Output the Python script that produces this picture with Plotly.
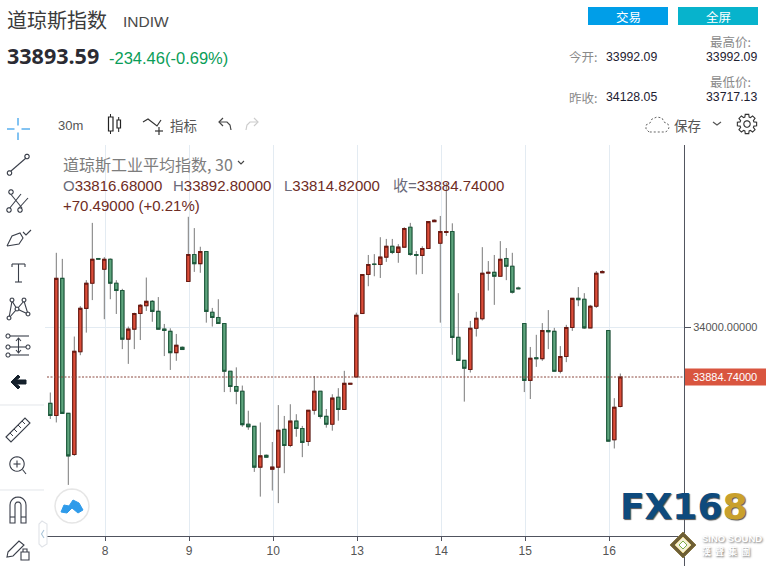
import math
import plotly.graph_objects as go

# ---------- data ----------
day_labels = ["8", "9", "10", "13", "14", "15", "16"]
day_index = [9, 23, 37, 51, 65, 79, 93]
price_ticks = [34000]
last_close = 33884.74

opens = [33824,33796,34112,33801,33706,33943,34043,34101,34158,34133,34156,34101,34084,33972,33995,34031,34049,34059,34036,33995,33990,33941,33953,
         34105,34167,34146,34174,34034,34022,34008,33898,33863,33852,33776,33771,33677,33704,33672,33677,33764,33727,33783,33766,33736,33808,33852,33794,
         33776,33838,33810,33868,33885,34031,34121,34145,34144,34161,34186,34172,34184,34230,34167,34165,34181,34243,34193,34218,34220,33976,33923,
         33902,33997,34019,34124,34126,34117,34158,34140,34090,34008,33877,33929,33927,33992,33990,33898,33932,33999,34066,34064,33998,34048,34125,33992,33740,33816.68]
highs = [33849,34171,34157,33801,33978,34048,34108,34240,34158,34161,34158,34108,34088,34001,34033,34053,34114,34062,34069,34007,33997,33984,33955,
         34254,34228,34185,34174,34044,34064,34008,33898,33907,33865,33807,33771,33780,33706,33735,33820,33795,33822,33799,33772,33808,33887,33852,33811,
         33845,33859,33899,33870,34033,34121,34166,34168,34207,34203,34203,34191,34230,34240,34175,34186,34243,34248,34256,34332,34239,34078,33923,
         34014,34035,34184,34152,34166,34198,34182,34171,34093,34008,33954,33982,34009,34039,33998,33956,34005,34066,34092,34078,34051,34129,34131,33992,33836,33892.80]
lows = [33788,33780,33801,33636,33703,33935,33987,34062,34156,34018,34064,34030,33949,33915,33949,33970,34037,34012,33995,33933,33901,33922,33947,
        34105,34127,34125,34010,34001,34008,33850,33850,33822,33770,33763,33666,33609,33698,33623,33594,33663,33723,33747,33700,33726,33798,33789,33768,
        33761,33784,33810,33868,33885,34031,34094,34117,34113,34150,34168,34148,34184,34164,34121,34122,34181,34243,34010,34210,33936,33923,33828,
        33895,33978,34015,34084,34051,34117,34108,34077,34088,33850,33834,33908,33922,33949,33898,33893,33919,33991,34048,33996,33998,34044,34125,33737,33720,33814.82]
closes = [33796,34112,33801,33703,33944,34043,34101,34156,34156,34156,34101,34084,33972,33995,34031,34050,34059,34036,33995,33992,33941,33958,33948,
          34167,34146,34174,34036,34022,34008,33898,33863,33852,33775,33770,33677,33703,33700,33677,33762,33727,33783,33766,33734,33808,33852,33794,33776,
          33836,33810,33870,33870,34027,34121,34144,34144,34161,34186,34172,34184,34227,34167,34165,34181,34243,34246,34220,34220,33976,33923,33905,
          33997,34020,34124,34126,34117,34156,34140,34080,34088,33877,33928,33927,33992,33989,33898,33932,33999,34066,34063,33998,34048,34124,34128,33737,33815,33884.74]
candle_index = list(range(len(opens)))

# ---------- page geometry (pixels) ----------
W, H = 770, 566
L, R, T_, B = 45, 684, 145, 536

def px(x):
    return (x - L) / (R - L)

def py(y):
    return (B - y) / (B - T_)

annotations, shapes = [], []
SANS = "Liberation Sans, Noto Sans CJK SC"
CJK = "Noto Sans CJK SC, Liberation Sans"

def text(x, y, s, size, color, anchor="left", family=SANS, **font_kw):
    annotations.append(dict(x=px(x), y=py(y), xref="paper", yref="paper", text=s, showarrow=False,
                            xanchor=anchor, yanchor="middle", borderpad=0, borderwidth=0,
                            font=dict(size=size, color=color, family=family, **font_kw)))

def add_path(d, color="#3a3f4a", width=1.2, fill=None, dash=None):
    line = dict(color=color, width=width)
    if dash:
        line["dash"] = dash
    shapes.append(dict(type="path", path=d, xref="paper", yref="paper", line=line,
                       fillcolor=fill if fill else "rgba(0,0,0,0)", layer="above"))

def poly(pts, close=False, **kw):
    d = "M" + " L".join(f"{px(a):.5f},{py(b):.5f}" for a, b in pts) + (" Z" if close else "")
    add_path(d, **kw)

def circ(cx, cy, r, **kw):
    pts = [(cx + r * math.cos(t * math.pi / 12), cy + r * math.sin(t * math.pi / 12)) for t in range(24)]
    poly(pts, close=True, **kw)

def rect(x0, y0, x1, y1, fill, line=None):
    shapes.append(dict(type="rect", xref="paper", yref="paper", x0=px(x0), x1=px(x1), y0=py(y0), y1=py(y1),
                       fillcolor=fill, line=dict(color=line or fill, width=1 if line else 0), layer="above"))

# ---------- header ----------
text(7, 20, "道琼斯指数", 20, "#3b3b3b", family=CJK)
text(123, 21, "INDIW", 15.5, "#4a4a4a")
text(7, 55.5, "<b>33893.59</b>", 21.5, "#2b2b33", family="Open Sans, Liberation Sans")
text(109, 57.5, "-234.46(-0.69%)", 16.5, "#0a9d58")

rect(588, 7, 668, 25, "#009ee8")
rect(678, 7, 758, 25, "#07b3cc")
text(628, 16, "交易", 12.5, "white", "center", CJK)
text(718, 16, "全屏", 12.5, "white", "center", CJK)

text(730, 41, "最高价:", 12.5, "#8a8a8a", "center", CJK)
text(730, 81, "最低价:", 12.5, "#8a8a8a", "center", CJK)
text(569, 57, "今开:", 12.5, "#8a8a8a", "left", CJK)
text(569, 97, "昨收:", 12.5, "#8a8a8a", "left", CJK)
text(606, 57, "33992.09", 12.3, "#1d2030")
text(606, 97, "34128.05", 12.3, "#1d2030")
text(706, 57, "33992.09", 12.3, "#1d2030")
text(706, 97, "33717.13", 12.3, "#1d2030")

# ---------- top toolbar ----------
text(58, 125, "30m", 13, "#555555")
poly([(110.5, 114), (110.5, 134)], width=1, color="#222")
poly([(108.5, 117), (113, 117), (113, 131), (108.5, 131)], close=True, width=1.2, color="#222", fill="white")
poly([(118.7, 117), (118.7, 132)], width=1, color="#222")
poly([(117, 120), (120.5, 120), (120.5, 128), (117, 128)], close=True, width=1.2, color="#222", fill="white")
poly([(143, 122), (148, 119), (157, 126), (161, 120)], width=1.2, color="#333")
poly([(159, 127), (159, 135)], width=1.2, color="#333")
poly([(155, 131), (163, 131)], width=1.2, color="#333")
text(170, 124.5, "指标", 13.5, "#555555", family=CJK)
# undo
poly([(231, 130), (230, 125), (227, 122), (219, 122)], color="#444444", width=1.2)
poly([(223, 118), (219, 122), (223, 126)], color="#444444", width=1.2)
# redo
poly([(246, 130), (247, 125), (250, 122), (258, 122)], color="#cccccc", width=1.2)
poly([(254, 118), (258, 122), (254, 126)], color="#cccccc", width=1.2)
# cloud (dashed)
poly([(649, 132), (646, 129), (646, 125), (650, 123), (652, 119), (657, 117), (662, 118), (664, 122),
      (668, 124), (669, 128), (666, 132)], close=True, color="#666666", width=1, dash="2px,2px")
text(674, 124.5, "保存", 13.5, "#555555", family=CJK)
poly([(713, 122), (717, 125), (721, 122)], color="#555555", width=1.2)
gear = []
for k in range(8):
    a = k * math.pi / 4
    for off, r in ((-0.30, 7.2), (-0.18, 9.8), (0.18, 9.8), (0.30, 7.2)):
        gear.append((747 + r * math.cos(a + off), 124 + r * math.sin(a + off)))
poly(gear, close=True, color="#333333", width=1.1)
circ(747, 124, 3.2, color="#333333", width=1.1)

# ---------- left toolbar ----------
BLUE = "#2f9bea"
for seg in ([(18, 118), (18, 125.5)], [(18, 132.5), (18, 140)], [(7, 129), (14.5, 129)], [(21.5, 129), (30, 129)]):
    poly(seg, color=BLUE, width=1.2)
poly([(11, 171), (26, 158)], width=1.1)
circ(9.5, 173, 2.2, width=1.1, fill="white")
circ(27, 156.5, 2.2, width=1.1, fill="white")
poly([(9, 192), (22, 208)], width=1.1)
poly([(9, 209), (21, 194)], width=1.1)
poly([(19, 208), (28, 198)], width=1.1)
for c in ((9, 210), (20, 210), (11, 192)):
    circ(c[0], c[1], 2.2, width=1.1, fill="white")
poly([(7, 246), (12, 236), (20, 233), (23, 238), (19, 244), (7, 246)], width=1.1)
poly([(23, 232), (26, 235), (31, 230)], width=1.1)
poly([(12, 264), (25, 264)], width=1.1); poly([(12, 264), (12, 267)], width=1.1); poly([(25, 264), (25, 267)], width=1.1)
poly([(18.5, 264), (18.5, 282)], width=1.1); poly([(15, 282), (22, 282)], width=1.1)
poly([(9, 318), (12, 301), (17, 309), (24, 301), (28, 314), (17, 309), (9, 318)], width=1.1)
for c in ((9, 318), (12, 300), (17, 309), (24, 300), (28, 314)):
    circ(c[0], c[1], 1.9, width=1.1, fill="white")
for y0, x0, x1, cxs in ((336, 8, 29, [8]), (347, 8, 29, [8, 28]), (355, 8, 29, [8])):
    poly([(x0, y0), (x1, y0)], width=1.1)
    for cx in cxs:
        circ(cx, y0, 2, width=1.1, fill="white")
poly([(18.5, 338), (18.5, 353)], width=1.1)
poly([(16, 341), (18.5, 338), (21, 341)], width=1.1)
poly([(16, 350), (18.5, 353), (21, 350)], width=1.1)
poly([(11, 382), (18, 375), (20, 377), (16.5, 380), (26, 380), (26, 384), (16.5, 384), (20, 387), (18, 389)],
     close=True, color="#15202b", fill="#15202b", width=1)
poly([(0, 405), (44, 405)], color="#e3e6ea", width=1)
poly([(6, 437), (25, 418), (30, 423), (11, 442)], close=True, width=1.1)
for a, b in ((10, 433), (14, 429), (18, 425), (22, 421)):
    poly([(a, b), (a + 3, b + 3)], width=1)
circ(17, 464, 7.2, width=1.1)
poly([(13.5, 464), (20.5, 464)], width=1.1)
poly([(17, 460.5), (17, 467.5)], width=1.1)
poly([(22.5, 469.5), (26, 474)], width=1.1)
poly([(0, 490), (44, 490)], color="#e3e6ea", width=1)
# magnet: outer and inner semicircles with two legs
outer = [(18 - 8 * math.cos(t * math.pi / 10), 505 - 8 * math.sin(t * math.pi / 10)) for t in range(11)]
inner = [(18 + 3 * math.cos(t * math.pi / 10), 505 - 3 * math.sin(t * math.pi / 10)) for t in range(11)]
poly([(10, 523)] + outer + [(26, 523), (21, 523)] + inner + [(15, 523)], close=True, width=1.1)
poly([(10, 517), (15, 517)], width=1.1); poly([(21, 517), (26, 517)], width=1.1)
poly([(8, 552), (19, 541), (24, 545), (13, 556), (7, 557)], close=True, width=1.1)
poly([(21, 552), (29, 552), (29, 560), (21, 560)], close=True, width=1.1, fill="white")
poly([(23, 552), (23, 549), (27, 549), (27, 552)], width=1.1)
poly([(42, 521), (47, 524), (47, 544), (42, 547), (39, 544), (39, 524)], close=True, color="#e0e3e8", width=1.1, fill="white")
poly([(44, 530), (41.5, 534), (44, 538)], color="#a9c4d8", width=1.1)
circ(72, 506, 17, color="#e6e6e6", width=1.5, fill="white")
poly([(61, 512), (64, 505), (69, 506), (73, 500), (79, 503), (83, 510), (78, 513), (72, 508), (67, 513)],
     close=True, color="#2f9bea", fill="#2f9bea", width=1)

# ---------- chart legend text ----------
BROWN = "#6e2c24"
GRAY = "#7d7d7d"
text(63, 163.5, "道琼斯工业平均指数, 30", 16, GRAY, family=CJK)
poly([(238, 161), (241, 164), (244, 161)], color="#444444", width=1.1)
text(63, 185, f'<span style="color:#6b6b7a">O</span>33816.68000', 15, BROWN)
text(173, 185, f'<span style="color:#6b6b7a">H</span>33892.80000', 15, BROWN)
text(284, 185, f'<span style="color:#6b6b7a">L</span>33814.82000', 15, BROWN)
text(393, 185, f'<span style="color:#6b6b7a">收=</span>33884.74000', 15, BROWN)
text(63, 205, "+70.49000 (+0.21%)", 15, BROWN)

# ---------- last price line / label ----------
shapes.append(dict(type="line", xref="paper", yref="y", x0=px(47), x1=1, y0=last_close, y1=last_close,
                   line=dict(color="#8c4a40", width=1, dash="2px,1.5px"), layer="above"))
shapes.append(dict(type="rect", xref="paper", yref="y", x0=1, x1=px(766), y0=last_close - 19.6, y1=last_close + 19.6,
                   fillcolor="#d9553f", line=dict(width=0), layer="above"))
text(693, 377, "33884.74000", 11, "white")

# ---------- axis line extended to page bottom ----------
poly([(684.5, 145), (684.5, 566)], color="#50535e", width=1)

# ---------- logos ----------
text(620, 506, '<b>FX16<span style="color:#c9a02c">8</span></b>', 36, "#0e4a7d", family="DejaVu Sans",
     shadow="1px 1px 1px #555555")
poly([(683, 532), (696, 545), (683, 558), (670, 545)], close=True, color="#8a7a4a", fill="#6e5f35", width=1)
poly([(683, 537), (691, 545), (683, 553), (675, 545)], close=True, color="#e8d58a", fill="#f4f0d8", width=1)
poly([(683, 541), (687, 545), (683, 549), (679, 545)], close=True, color="#7fae4a", fill="#ffffff", width=1)
SHADOW = "1px 1px 2px #777777"
text(702, 538, "<b>SINO SOUND</b>", 9.5, "white", shadow=SHADOW)
text(702, 551, "<b>漢  聲  集  團</b>", 9, "white", family=CJK, shadow=SHADOW)

# ---------- traces ----------
RED_F, RED_L = "#dc4d39", "#6b1a12"
GRN_F, GRN_L = "#5fa57e", "#1d5a3c"
body_hi = [max(a, b) for a, b in zip(opens, closes)]
body_lo = [min(a, b) for a, b in zip(opens, closes)]

wicks = go.Candlestick(
    x=candle_index, open=opens, high=highs, low=lows, close=closes, hoverinfo="skip", showlegend=False,
    increasing=dict(line=dict(color="#7a7a7a", width=1), fillcolor="rgba(0,0,0,0)"),
    decreasing=dict(line=dict(color="#7a7a7a", width=1), fillcolor="rgba(0,0,0,0)"),
)
bodies = go.Candlestick(
    x=candle_index, open=opens, high=body_hi, low=body_lo, close=closes, hoverinfo="skip", showlegend=False,
    increasing=dict(line=dict(color=RED_L, width=1.1), fillcolor=RED_F),
    decreasing=dict(line=dict(color=GRN_L, width=1.1), fillcolor=GRN_F),
)
fig = go.Figure([wicks, bodies])

x0_val = -0.883
x1_val = (684 - 50.3) / 6
fig.update_layout(
    template="none",
    width=W, height=H, paper_bgcolor="white", plot_bgcolor="white", showlegend=False,
    margin=dict(l=L, r=W - R, t=T_, b=H - B, pad=0), boxmode="overlay", boxgap=0.22,
    annotations=annotations, shapes=shapes,
    font=dict(family=SANS),
    xaxis=dict(range=[x0_val, x1_val], rangeslider=dict(visible=False), tickmode="array", automargin=False,
               tickvals=[v + 0.15 for v in day_index], ticktext=day_labels,
               showgrid=True, gridcolor="#e3ebf2", gridwidth=1, zeroline=False,
               showline=True, linecolor="#50535e", linewidth=1,
               ticks="outside", ticklen=4, tickcolor="#50535e", tickwidth=1,
               tickfont=dict(size=12, color="#555555", family=SANS)),
    yaxis=dict(side="right", range=[34000 - (536 - 327) * 2.305, 34000 + (327 - 145) * 2.305], automargin=False,
               tickmode="array", tickvals=price_ticks, ticktext=["34000.00000"],
               showgrid=True, gridcolor="#e3ebf2", gridwidth=1, zeroline=False, showline=False,
               ticks="outside", ticklen=6, tickcolor="#50535e", tickwidth=1,
               tickfont=dict(size=11, color="#555555", family=SANS)),
)

fig.write_html("out.html", config=dict(displayModeBar=False),
               post_script="document.body.style.margin='0';document.documentElement.style.overflow='hidden';")
